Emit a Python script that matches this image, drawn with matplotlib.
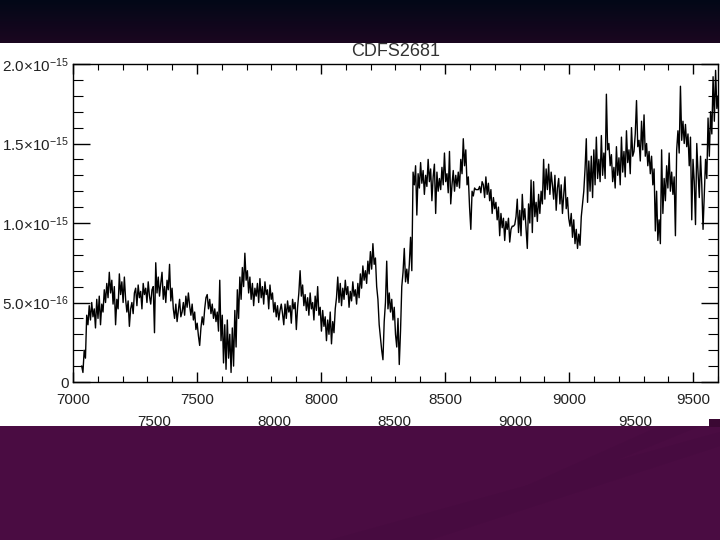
import numpy as np
import matplotlib
matplotlib.use('Agg')
from matplotlib import pyplot as plt
from matplotlib.patches import Rectangle, Polygon
from matplotlib.ticker import MultipleLocator, FixedLocator

plt.rcParams['font.family'] = ['Liberation Sans', 'DejaVu Sans']
plt.rcParams['mathtext.fontset'] = 'custom'
plt.rcParams['mathtext.rm'] = 'Liberation Sans'
plt.rcParams['mathtext.it'] = 'Liberation Sans:italic'

title = 'CDFS2681'

# spectrum, flux in units of 1e-16, one row per ~100 A
wave_start = 7035.0
wave_step = 5.06
flux = [
    1.0, 0.6, 2.0, 1.5, 4.2, 3.6, 4.8, 3.9, 5.0, 4.1, 4.6, 3.4, 5.2, 4.0, 5.4, 3.6, 4.9, 4.4, 5.8, 5.0,
    6.2, 5.3, 6.9, 5.6, 6.4, 4.9, 6.0, 3.6, 5.2, 4.6, 6.8, 5.5, 6.3, 5.0, 6.6, 5.2, 4.4, 5.1, 3.5, 4.6,
    5.0, 4.3, 5.6, 5.9, 4.8, 6.1, 5.3, 5.7, 4.6, 6.2, 5.5, 5.9, 5.0, 6.3, 5.4, 4.9, 5.8, 6.0, 3.1, 7.5,
    5.6, 6.6, 5.4, 6.2, 6.9, 5.2, 6.0, 5.0, 6.4, 5.8, 7.4, 5.1, 5.9, 4.6, 4.0, 4.9, 3.8, 4.5, 5.2, 4.1,
    4.4, 5.0, 4.2, 5.4, 4.7, 5.6, 4.8, 4.2, 4.9, 3.9, 4.4, 3.3, 3.7, 2.9, 2.3, 3.4, 4.1, 3.6, 4.6, 5.3,
    5.5, 4.6, 5.2, 4.3, 4.9, 4.0, 4.6, 3.8, 4.4, 3.2, 6.4, 2.6, 4.2, 1.2, 3.6, 0.8, 3.9, 1.5, 3.0, 0.6,
    3.4, 1.0, 4.5, 2.2, 5.8, 4.0, 6.6, 5.2, 7.2, 6.0, 8.1, 6.4, 7.0, 5.6, 6.6, 5.2, 6.2, 4.8, 5.9, 5.4,
    6.2, 5.0, 6.5, 5.3, 6.0, 4.9, 6.3, 5.5, 5.8, 4.6, 6.1, 5.2, 5.6, 4.4, 5.0, 4.1, 4.8, 3.9, 4.5, 4.9,
    4.3, 3.6, 4.9, 4.0, 5.1, 4.4, 4.8, 3.7, 5.2, 4.6, 5.0, 3.3, 4.7, 5.6, 7.0, 5.4, 6.1, 4.8, 5.5, 4.5,
    5.3, 4.2, 5.6, 4.6, 5.0, 3.9, 5.4, 4.5, 6.0, 4.2, 4.7, 3.2, 4.5, 3.5, 4.1, 2.6, 3.9, 3.0, 4.4, 2.4,
    3.8, 3.1, 4.6, 5.3, 6.6, 5.0, 6.2, 4.8, 5.9, 5.2, 6.4, 5.5, 6.0, 4.7, 5.7, 5.1, 6.3, 5.4, 5.8, 4.9,
    6.2, 5.3, 6.8, 5.9, 7.3, 6.4, 7.0, 6.2, 7.6, 6.8, 8.2, 7.1, 8.7, 7.4, 7.8, 6.0, 5.2, 3.6, 2.8, 2.0,
    1.4, 3.8, 5.0, 7.6, 4.6, 5.6, 4.4, 5.2, 3.9, 4.7, 3.0, 2.2, 4.0, 1.1, 3.2, 6.0, 6.9, 8.4, 6.3, 7.1,
    6.2, 7.4, 9.1, 7.0, 13.2, 12.4, 13.6, 10.5, 13.1, 12.2, 13.8, 12.5, 13.3, 11.8, 13.0, 12.3, 14.0, 12.6, 13.4, 11.4,
    12.9, 13.7, 10.6, 13.2, 12.0, 12.8, 12.1, 13.5, 12.4, 14.4, 12.6, 13.1, 11.9, 14.5, 11.2, 12.4, 13.3, 12.0, 13.0, 12.3,
    13.2, 12.2, 14.0, 13.1, 15.3, 13.6, 14.6, 12.4, 12.9, 11.0, 9.6, 12.0, 11.7, 12.2, 12.1, 12.1, 12.1, 12.3, 11.9, 12.6,
    12.4, 11.6, 12.9, 11.8, 12.5, 11.4, 12.1, 10.6, 11.6, 10.9, 11.3, 10.2, 11.0, 9.2, 10.6, 9.7, 10.3, 8.9, 10.1, 9.6,
    10.3, 8.8, 9.6, 9.8, 9.8, 9.9, 10.4, 11.5, 9.4, 10.8, 9.2, 11.8, 10.2, 10.9, 9.7, 8.4, 11.2, 10.0, 12.7, 9.4,
    12.6, 10.4, 11.3, 10.1, 11.8, 10.6, 12.0, 11.2, 14.0, 11.5, 13.4, 12.1, 13.7, 11.8, 13.2, 12.4, 11.5, 13.0, 10.8, 12.2,
    12.8, 11.2, 12.4, 10.6, 11.8, 12.9, 10.9, 11.6, 10.3, 9.8, 10.6, 9.1, 10.2, 8.7, 9.6, 8.4, 9.3, 8.6, 10.4, 11.2,
    12.0, 13.4, 15.3, 11.3, 13.9, 12.0, 14.2, 11.6, 14.6, 12.4, 15.4, 12.8, 14.0, 12.6, 15.5, 13.0, 14.4, 12.8, 18.1, 14.6,
    15.0, 13.6, 14.3, 12.6, 13.5, 12.2, 14.8, 13.0, 14.1, 12.4, 15.4, 13.2, 14.5, 12.9, 15.8, 13.8, 14.6, 13.1, 16.0, 14.2,
    14.5, 15.6, 17.7, 14.8, 15.2, 13.9, 16.4, 14.6, 16.8, 14.2, 15.0, 13.6, 14.5, 13.1, 14.2, 12.4, 13.4, 9.5, 12.0, 8.9,
    10.2, 8.7, 14.6, 10.6, 12.8, 11.4, 13.6, 12.2, 14.4, 12.0, 13.2, 11.8, 12.9, 9.2, 14.6, 15.8, 14.4, 18.6, 15.2, 16.4,
    15.0, 16.2, 14.8, 15.6, 13.6, 15.4, 10.2, 14.0, 12.6, 9.9, 15.0, 13.2, 11.6, 14.2, 12.4, 9.6, 11.8, 14.0, 12.8, 16.6,
    14.2, 17.0, 15.6, 19.2, 16.4, 19.6, 17.2, 18.0, 15.8,
]
wave = wave_start + wave_step * np.arange(len(flux))
flux = np.array(flux) * 1e-16

y_ticks = [0, 5e-16, 1e-15, 1.5e-15, 2e-15]
y_labels = ['0', r'$5.0{\times}10^{-16}$', r'$1.0{\times}10^{-15}$',
            r'$1.5{\times}10^{-15}$', r'$2.0{\times}10^{-15}$']
x2_ticks = [7500, 8000, 8500, 9000, 9500]

fig = plt.figure(figsize=(7.2, 5.4), dpi=100)
fig.patch.set_facecolor('white')

# slide background
bg = fig.add_axes([0, 0, 1, 1], zorder=-1)
bg.axis('off')
grad = np.linspace(0, 1, 64)[:, None]
top_cmap = matplotlib.colors.LinearSegmentedColormap.from_list('band', ['#020817', '#1b0620'])
bg.imshow(grad, cmap=top_cmap, extent=[0, 720, 43, 0], aspect='auto')
bg.add_patch(Rectangle((0, 426), 720, 114, color='#4a0c42', lw=0))
bg.add_patch(Polygon([(330, 540), (720, 432), (720, 446), (430, 540)], color='#470b40', lw=0))
bg.add_patch(Polygon([(450, 520), (660, 426), (700, 426), (470, 520)], color='#470b40', lw=0))
bg.add_patch(Rectangle((709, 419), 11, 8, color='#3a0833', lw=0))
bg.set_xlim(0, 720)
bg.set_ylim(540, 0)

ax = fig.add_axes([73 / 720, 158 / 540, 645 / 720, 318 / 540])
ax.plot(wave, flux, color='black', lw=1.0)
ax.set_xlim(7000, 9600)
ax.set_ylim(0, 2e-15)

ax.xaxis.set_major_locator(MultipleLocator(500))
ax.xaxis.set_minor_locator(MultipleLocator(100))
ax.yaxis.set_major_locator(FixedLocator(y_ticks))
ax.yaxis.set_minor_locator(MultipleLocator(1e-16))
ax.set_yticklabels(y_labels)
ax.tick_params(axis='x', which='both', direction='in', top=True, bottom=True,
               labelsize=11, pad=8, labelcolor='#222222')
ax.tick_params(axis='x', which='major', length=7, width=1)
ax.tick_params(axis='x', which='minor', length=4, width=0.8)
ax.tick_params(axis='y', which='both', direction='in', left=True, right=True,
               labelsize=11, pad=3, labelcolor='#222222')
ax.tick_params(axis='y', which='major', length=12, width=1)
ax.tick_params(axis='y', which='minor', length=7, width=0.8)
for s in ax.spines.values():
    s.set_linewidth(1)

ax.set_title(title, fontsize=13, color='#333333', pad=6)

# second row of wavelength labels
def to_second(x):
    px = 73 + (x - 7000) * 0.248
    return 7500 + (px - 153.7) / 0.2407

def from_second(v):
    px = 153.7 + (v - 7500) * 0.2407
    return 7000 + (px - 73) / 0.248

sec = ax.secondary_xaxis('bottom', functions=(to_second, from_second))
sec.xaxis.set_major_locator(FixedLocator(x2_ticks))
sec.tick_params(axis='x', length=0, pad=24, labelsize=11, labelcolor='#222222')
sec.spines['bottom'].set_visible(False)

fig.savefig('out.png', dpi=100)
